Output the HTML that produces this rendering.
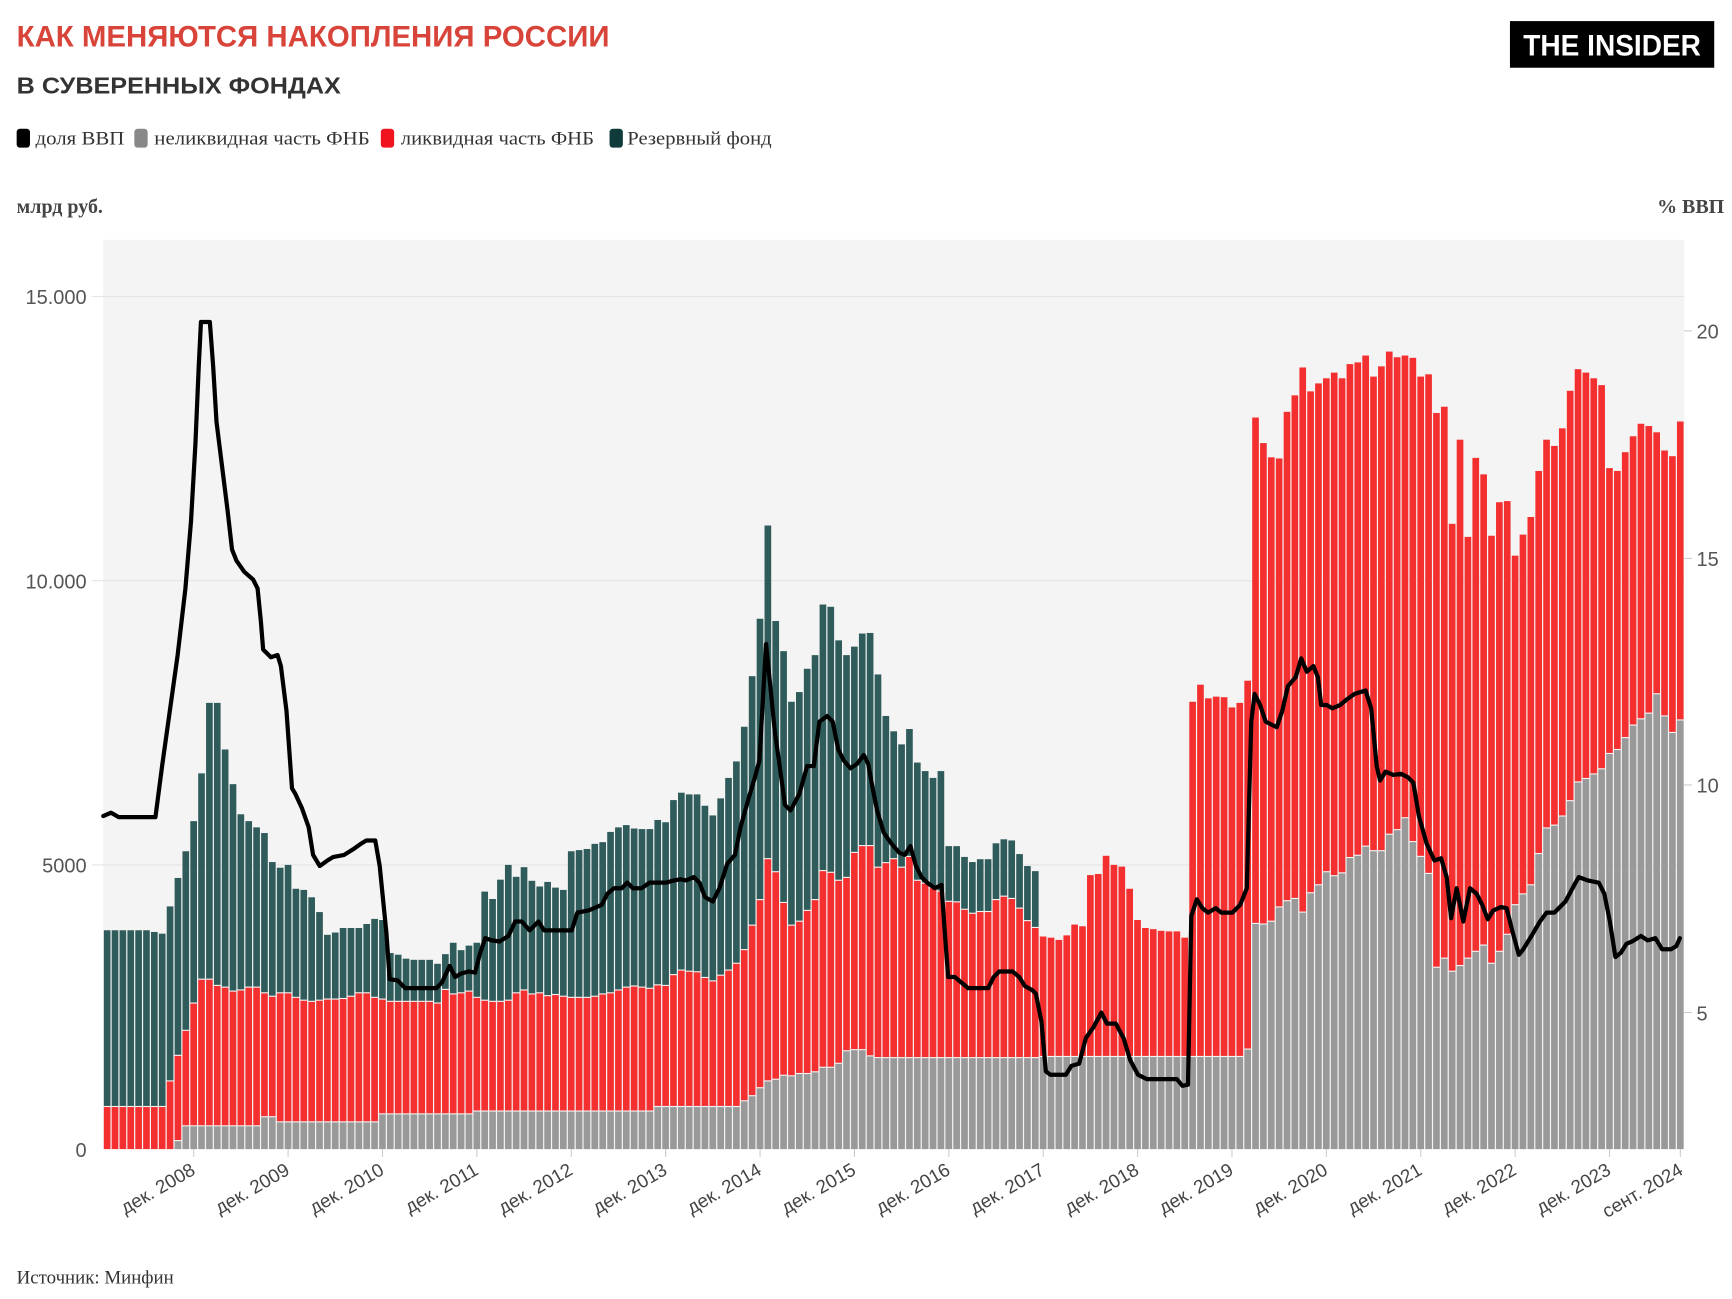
<!DOCTYPE html>
<html><head><meta charset="utf-8"><style>
html,body{margin:0;padding:0;background:#fff;}
svg{display:block;}
.serif{font-family:"Liberation Serif","DejaVu Serif",serif;}
.sans{font-family:"Liberation Sans","DejaVu Sans",sans-serif;}
</style></head><body>
<svg id="c" width="1732" height="1299" viewBox="0 0 1560 1170" xmlns="http://www.w3.org/2000/svg">
<rect x="0" y="0" width="1560" height="1170" fill="#fff"/>
<text x="15" y="42" class="sans" font-size="27" font-weight="bold" fill="#d9443a" textLength="534" lengthAdjust="spacingAndGlyphs">КАК МЕНЯЮТСЯ НАКОПЛЕНИЯ РОССИИ</text>
<text x="15" y="84" class="sans" font-size="21" font-weight="bold" fill="#333" textLength="292" lengthAdjust="spacingAndGlyphs">В СУВЕРЕННЫХ ФОНДАХ</text>
<rect x="1360" y="19" width="184" height="42" fill="#000"/>
<text x="1452" y="50" class="sans" font-size="27" font-weight="bold" fill="#fff" text-anchor="middle" textLength="160" lengthAdjust="spacingAndGlyphs">THE INSIDER</text>
<g class="serif" font-size="17" fill="#333">
<rect x="15" y="116" width="12" height="17" rx="3" fill="#000"/><text x="32" y="130" textLength="80" lengthAdjust="spacingAndGlyphs">доля ВВП</text>
<rect x="121" y="116" width="12" height="17" rx="3" fill="#888"/><text x="139" y="130" textLength="194" lengthAdjust="spacingAndGlyphs">неликвидная часть ФНБ</text>
<rect x="343" y="116" width="12" height="17" rx="3" fill="#f0141e"/><text x="361" y="130" textLength="174" lengthAdjust="spacingAndGlyphs">ликвидная часть ФНБ</text>
<rect x="549" y="116" width="12" height="17" rx="3" fill="#0f3b3b"/><text x="565" y="130" textLength="130" lengthAdjust="spacingAndGlyphs">Резервный фонд</text>
</g>
<text x="15" y="192" class="serif" font-size="18" font-weight="bold" fill="#444">млрд руб.</text>
<text x="1553" y="192" class="serif" font-size="18" font-weight="bold" fill="#444" text-anchor="end">% ВВП</text>
<rect x="93" y="216" width="1424" height="819" fill="#f4f4f4"/>
<g stroke="#e4e4e4" stroke-width="1">
<line x1="83" y1="267" x2="1517" y2="267"/><line x1="83" y1="523" x2="1517" y2="523"/><line x1="83" y1="779" x2="1517" y2="779"/>
</g>
<g class="sans" font-size="18" fill="#555">
<text x="78" y="274" text-anchor="end">15.000</text>
<text x="78" y="530" text-anchor="end">10.000</text>
<text x="78" y="786" text-anchor="end">5000</text>
<text x="78" y="1042" text-anchor="end">0</text>
<text x="1528" y="305">20</text>
<text x="1528" y="510">15</text>
<text x="1528" y="714">10</text>
<text x="1528" y="919">5</text>
</g>
<g stroke="#ccc" stroke-width="1">
<line x1="1517" y1="298" x2="1524" y2="298"/><line x1="1517" y1="503" x2="1524" y2="503"/><line x1="1517" y1="707" x2="1524" y2="707"/><line x1="1517" y1="912" x2="1524" y2="912"/>
</g>
<g id="bars"></g>
<g id="ticks" stroke="#ccc" stroke-width="1"></g>
<polyline id="ln" fill="none" stroke="#000" stroke-width="3.8" stroke-linejoin="round" stroke-linecap="round" points=""/>
<g class="sans" font-size="17" fill="#444">
<text transform="translate(177,1057) rotate(-30)" text-anchor="end">дек. 2008</text>
<text transform="translate(262,1057) rotate(-30)" text-anchor="end">дек. 2009</text>
<text transform="translate(347,1057) rotate(-30)" text-anchor="end">дек. 2010</text>
<text transform="translate(432,1057) rotate(-30)" text-anchor="end">дек. 2011</text>
<text transform="translate(517,1057) rotate(-30)" text-anchor="end">дек. 2012</text>
<text transform="translate(602,1057) rotate(-30)" text-anchor="end">дек. 2013</text>
<text transform="translate(687,1057) rotate(-30)" text-anchor="end">дек. 2014</text>
<text transform="translate(772,1057) rotate(-30)" text-anchor="end">дек. 2015</text>
<text transform="translate(857,1057) rotate(-30)" text-anchor="end">дек. 2016</text>
<text transform="translate(942,1057) rotate(-30)" text-anchor="end">дек. 2017</text>
<text transform="translate(1027,1057) rotate(-30)" text-anchor="end">дек. 2018</text>
<text transform="translate(1112,1057) rotate(-30)" text-anchor="end">дек. 2019</text>
<text transform="translate(1197,1057) rotate(-30)" text-anchor="end">дек. 2020</text>
<text transform="translate(1282,1057) rotate(-30)" text-anchor="end">дек. 2021</text>
<text transform="translate(1367,1057) rotate(-30)" text-anchor="end">дек. 2022</text>
<text transform="translate(1452,1057) rotate(-30)" text-anchor="end">дек. 2023</text>
<text transform="translate(1517,1057) rotate(-30)" text-anchor="end">сент. 2024</text>
</g>
<text x="15" y="1156" class="serif" font-size="17" fill="#333">Источник: Минфин</text>
</svg>
<script>
(function(){
var T=[3.85,3.85,3.85,3.85,3.85,3.85,3.82,3.79,4.27,4.77,5.24,5.77,6.61,7.85,7.85,7.03,6.42,5.89,5.77,5.66,5.56,5.05,4.95,5.0,4.58,4.56,4.43,4.17,3.77,3.81,3.89,3.89,3.89,3.96,4.05,4.03,3.45,3.42,3.35,3.33,3.33,3.33,3.26,3.43,3.63,3.5,3.58,3.63,4.53,4.4,
4.74,5.0,4.79,4.96,4.72,4.62,4.7,4.6,4.56,5.24,5.26,5.28,5.37,5.4,5.58,5.66,5.7,5.64,5.63,5.63,5.79,5.75,6.14,6.27,6.24,6.24,6.04,5.87,6.17,6.53,6.82,7.43,8.32,9.33,10.97,9.29,8.76,7.87,8.04,8.45,8.69,9.58,9.54,8.95,8.69,8.84,9.07,9.08,8.35,7.62,7.35,7.12,7.39,6.8,6.65,6.53,6.65,5.33,5.33,5.14,5.05,5.1,5.1,5.38,5.45,5.43,5.19,4.98,4.89];
var R=[0.74,0.74,0.74,0.74,0.74,0.74,0.74,0.74,1.19,1.64,2.08,2.56,2.98,2.98,2.87,2.84,2.77,2.79,2.84,2.84,2.74,2.68,2.74,2.74,2.66,2.61,2.59,2.61,2.63,2.63,2.64,2.68,2.74,2.74,2.66,2.63,2.59,2.59,2.59,2.59,2.59,2.59,2.56,2.8,2.72,2.74,2.77,2.66,2.61,2.59,2.59,
2.61,2.74,2.79,2.72,2.74,2.69,2.71,2.68,2.66,2.66,2.66,2.68,2.72,2.74,2.79,2.84,2.86,2.84,2.82,2.88,2.87,3.06,3.14,3.12,3.11,3.01,2.95,3.05,3.14,3.26,3.5,3.93,4.38,5.1,4.87,4.33,3.93,4.0,4.19,4.38,4.89,4.86,4.72,4.77,5.21,5.33,5.33,4.95,5.03,5.1,4.95,5.14,
4.72,4.67,4.59,4.53,4.35,4.34,4.21,4.14,4.17,4.17,4.38,4.44,4.4,4.23,4.01,3.89,
3.74,3.72,3.68,3.76,3.95,3.92,4.82,4.84,5.16,5.0,4.97,4.58,4.03,3.89,3.87,3.84,3.83,3.83,3.72,
7.87,8.17,7.93,7.96,7.95,7.77,7.85,8.24,
12.87,12.42,12.17,12.15,12.97,13.26,13.75,13.33,
13.47,13.56,13.66,13.56,13.81,13.84,13.96,13.59,13.77,14.03,13.93,13.96,13.92,13.59,13.63,12.95,13.06,11.0,12.48,10.77,12.16,11.87,10.79,11.38,11.4,10.44,10.81,11.12,11.93,12.48,12.37,12.68,13.34,13.72,13.66,13.56,13.44,11.98,11.93,12.26,12.54,12.76,12.72,12.61,12.29,12.19,12.8];
var G=[];
for(var i=0;i<201;i++){var g;
if(i<9)g=0;else if(i==9)g=0.14;else if(i<20)g=0.4;else if(i<22)g=0.56;else if(i<35)g=0.47;else if(i<47)g=0.61;else if(i<70)g=0.66;else if(i<81)g=0.74;else g=null;G.push(g);}
var mid={81:0.84,82:0.93,83:1.07,84:1.19,85:1.22,86:1.29,87:1.28,88:1.32,89:1.32,90:1.35,91:1.43,92:1.43,93:1.5,94:1.72,95:1.74,96:1.74,97:1.63};
for(var k in mid)G[k]=mid[k];
for(i=98;i<119;i++)G[i]=1.6;
for(i=119;i<146;i++)G[i]=1.62;
G[145]=1.75;
var g2=[3.96,3.95,4.0,4.25,4.36,4.4,4.16,4.5,
4.64,4.87,4.8,4.85,5.12,5.16,5.32,5.24,5.24,5.53,5.61,5.82,5.4,5.14,4.84,3.19,3.35,3.12,3.22,3.35,3.47,3.58,3.26,3.47,3.77,4.29,4.48,4.64,5.19,5.64,5.69,5.85,6.12,6.45,6.51,6.59,6.68,6.95,7.02,7.23,7.45,7.56,7.66,8.0,7.61,7.32,7.54];
for(i=0;i<g2.length;i++)G[146+i]=g2[i];
var ns="http://www.w3.org/2000/svg",bars=document.getElementById("bars");
function Y(v){return 1035-v*51.2;}
function rect(x,y1,y2,c){if(y2-y1<=0)return;var r=document.createElementNS(ns,"rect");r.setAttribute("x",x);r.setAttribute("y",y1);r.setAttribute("width",6.0);r.setAttribute("height",y2-y1);r.setAttribute("fill",c);bars.appendChild(r);}
var step=1424/201;
for(i=0;i<201;i++){
var x=93+i*step+0.5;var g=G[i]||0,r=R[i],t=(i<T.length)?T[i]:r;
if(g>0)rect(x,Y(g),1035,"#999999");
if(r>g)rect(x,Y(r),Y(g)-(g>0?1:0),"#f42f2f");
if(t>r)rect(x,Y(t),Y(r)-1,"#2f5b5b");
}
var tk=document.getElementById("ticks");
for(i=0;i<17;i++){var idx=(i<16)?11+12*i:200;var xx=93+(idx+0.5)*step;var l=document.createElementNS(ns,"line");l.setAttribute("x1",xx);l.setAttribute("x2",xx);l.setAttribute("y1",1035);l.setAttribute("y2",1042);tk.appendChild(l);}
var P=[[93,735],[100,732],[107,736],[140,736],[146,690],[153,640],[160,590],[167,530],[172,470],[176,400],[179,330],[181,290],[189,290],[192,330],[195,380],[200,420],[205,460],[209,495],[213,505],[220,515],[228,522],[232,530],[235,560],[237,585],[244,592],[250,590],[253,600],[258,640],[263,710],[266,715],[272,728],[278,745],[282,770],[288,780],[295,775],[300,772],[310,770],[318,765],[325,760],[330,757],[338,757],[342,780],[348,840],[351,882],[358,883],[365,890],[375,890],[393,890],[398,885],[405,870],[410,880],[415,877],[422,875],[428,876],[432,860],[437,845],[443,847],[450,848],[458,843],[464,830],[470,830],[477,838],[485,830],[490,838],[515,838],[520,822],[530,820],[535,818],[542,815],[547,805],[553,800],[560,800],[565,795],[570,800],[578,800],[585,795],[600,795],[607,793],[613,792],[618,793],[625,790],[630,795],[635,808],[642,812],[648,800],[655,778],[662,770],[667,745],[674,720],[680,700],[684,685],[686,650],[690,580],[692,600],[698,660],[702,688],[707,725],[712,730],[720,715],[727,690],[733,690],[738,650],[745,645],[750,650],[755,675],[760,685],[766,692],[772,688],[778,680],[782,688],[786,710],[790,730],[796,750],[803,760],[810,768],[815,770],[820,762],[825,780],[830,790],[835,795],[842,800],[848,797],[851,840],[854,880],[860,880],[866,885],[872,890],[890,890],[895,880],[900,875],[912,875],[918,880],[923,888],[930,892],[933,895],[938,920],[942,965],[946,968],[960,968],[965,960],[972,958],[978,935],[985,925],[992,912],[997,922],[1005,922],[1012,935],[1018,955],[1025,968],[1033,972],[1060,972],[1065,978],[1070,977],[1073,825],[1078,810],[1083,818],[1088,822],[1095,818],[1100,822],[1110,822],[1117,815],[1123,800],[1127,650],[1130,625],[1135,635],[1140,650],[1150,655],[1155,640],[1160,618],[1167,610],[1172,593],[1177,605],[1183,600],[1187,610],[1190,635],[1195,635],[1200,638],[1207,635],[1213,630],[1220,625],[1230,622],[1235,638],[1240,690],[1243,703],[1248,695],[1255,698],[1262,697],[1268,700],[1273,705],[1278,735],[1285,760],[1292,775],[1298,773],[1303,790],[1307,827],[1312,800],[1318,830],[1324,800],[1330,805],[1335,815],[1340,828],[1345,820],[1352,817],[1357,818],[1362,838],[1368,860],[1372,855],[1380,842],[1387,830],[1393,822],[1400,822],[1410,812],[1418,797],[1422,790],[1430,793],[1440,795],[1445,805],[1450,830],[1455,862],[1460,858],[1465,850],[1470,848],[1478,843],[1484,847],[1491,845],[1497,855],[1505,855],[1510,852],[1513,845]];
document.getElementById("ln").setAttribute("points",P.map(function(p){return p[0]+","+p[1];}).join(" "));
})();
</script>
</body></html>
